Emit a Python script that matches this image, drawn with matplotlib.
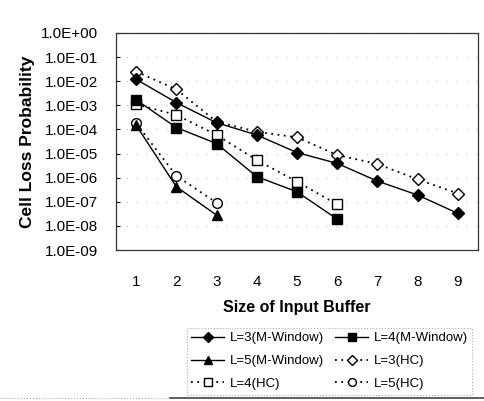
import matplotlib
matplotlib.use("Agg")
import matplotlib.pyplot as plt
from matplotlib.lines import Line2D

plt.rcParams['font.family'] = ['Liberation Sans', 'DejaVu Sans']

buffer_sizes = [1, 2, 3, 4, 5, 6, 7, 8, 9]
tick_labels = ["1.0E+00", "1.0E-01", "1.0E-02", "1.0E-03", "1.0E-04",
               "1.0E-05", "1.0E-06", "1.0E-07", "1.0E-08", "1.0E-09"]

l3_mw = [1.2e-2, 1.3e-3, 1.9e-4, 5.9e-5, 1.1e-5, 3.9e-6, 7.2e-7, 1.9e-7, 3.3e-8]
l4_mw = [1.7e-3, 1.2e-4, 2.6e-5, 1.1e-6, 2.6e-7, 1.9e-8]
l5_mw = [1.5e-4, 4.2e-7, 2.8e-8]
l3_hc = [2.5e-2, 4.6e-3, 2.1e-4, 8.0e-5, 4.7e-5, 8.7e-6, 3.7e-6, 8.5e-7, 2.2e-7]
l4_hc = [1.1e-3, 4.0e-4, 5.9e-5, 5.4e-6, 6.8e-7, 7.8e-8]
l5_hc = [1.8e-4, 1.2e-6, 9.1e-8]

fig = plt.figure(figsize=(4.85, 4.01), dpi=100)
ax = fig.add_axes([116/485, 1-250/401, (478-116)/485, (250-33)/401])

ms = 7
dot = (0, (1, 2.5))
ax.plot(buffer_sizes[:len(l3_mw)], l3_mw, color='black', lw=1.0, ls='-', marker='D', ms=ms-1, mfc='black', mec='black', label='L=3(M-Window)', zorder=4)
ax.plot(buffer_sizes[:len(l4_mw)], l4_mw, color='black', lw=1.0, ls='-', marker='s', ms=ms, mfc='black', mec='black', label='L=4(M-Window)', zorder=4)
ax.plot(buffer_sizes[:len(l5_mw)], l5_mw, color='black', lw=1.0, ls='-', marker='^', ms=ms, mfc='black', mec='black', label='L=5(M-Window)', zorder=4)
ax.plot(buffer_sizes[:len(l3_hc)], l3_hc, color='black', lw=1.3, ls=dot, marker='D', ms=ms-1, mfc='white', mec='black', label='L=3(HC)', zorder=3)
ax.plot(buffer_sizes[:len(l4_hc)], l4_hc, color='black', lw=1.3, ls=dot, marker='s', ms=ms, mfc='white', mec='black', label='L=4(HC)', zorder=3)
ax.plot(buffer_sizes[:len(l5_hc)], l5_hc, color='black', lw=1.3, ls=dot, marker='o', ms=ms, mfc='white', mec='black', label='L=5(HC)', zorder=3)

ax.set_yscale('log')
ax.set_ylim(1e-9, 1e0)
ax.set_xlim(0.5, 9.5)
ax.set_yticks([10.0**(-k) for k in range(10)])
ax.set_yticklabels(tick_labels)
ax.minorticks_off()
ax.set_xticks(buffer_sizes)
ax.set_xticklabels([str(b) for b in buffer_sizes])
ax.tick_params(axis='x', length=0, pad=18, labelsize=11)
ax.tick_params(axis='y', length=3, direction='in', pad=13, labelsize=11)
ax.yaxis.grid(True, color='#bbbbbb', ls=(0, (1, 8)), lw=0.8)
for s in ax.spines.values():
    s.set_linewidth(0.9)
    s.set_color('#333333')

ax.set_ylabel('Cell Loss Probability', fontsize=12.5, fontweight='bold', labelpad=4)
ax.set_xlabel('Size of Input Buffer', fontsize=11.5, fontweight='bold', labelpad=8)

handles, labels = ax.get_legend_handles_labels()
order = [0, 2, 4, 1, 3, 5]
leg = fig.legend([handles[i] for i in order], [labels[i] for i in order],
                 loc='upper left', bbox_to_anchor=(180/485, 1-321/401), ncol=2,
                 fontsize=9.5, frameon=True, handlelength=2.5, columnspacing=0.9,
                 handletextpad=0.4, labelspacing=0.8, borderpad=0.35, fancybox=False,
                 markerscale=0.8)
leg.get_frame().set_edgecolor('#999999')
leg.get_frame().set_linestyle(':')
leg.get_frame().set_linewidth(0.8)

fig.add_artist(Line2D([0.35, 1.0], [3/401, 3/401], color='#444444', lw=1.2, transform=fig.transFigure))
fig.add_artist(Line2D([0.0, 0.35], [3/401, 3/401], color='#aaaaaa', lw=0.8, ls=':', transform=fig.transFigure))

fig.savefig('out.png', dpi=100)
